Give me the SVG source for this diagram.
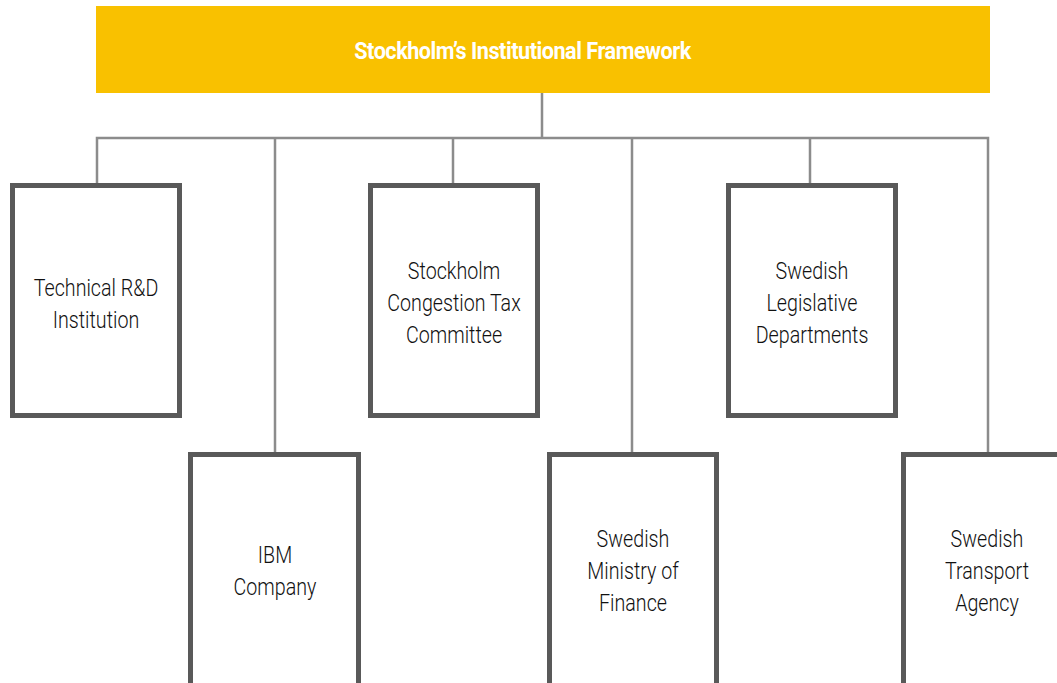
<svg xmlns="http://www.w3.org/2000/svg" width="1057" height="683" viewBox="0 0 1057 683">
<style>
.box{fill:#fff;stroke:#595959;stroke-width:5}
.conn{fill:none;stroke:#8c8c8c;stroke-width:2.5}
.lbl{font-family:Roboto,"Liberation Sans",sans-serif;font-size:24px;font-weight:300;fill:#111;text-anchor:middle}
.hdr{font-family:Roboto,"Liberation Sans",sans-serif;font-size:23px;font-weight:bold;fill:#fff;text-anchor:middle;letter-spacing:-0.5px}
</style>
<rect width="1057" height="683" fill="#fff"/>
<g id="connectors">
<path class="conn" d="M542 93V138M97 185V138H988V452M275 138V452M453 138V185M632 138V452M810 138V185"/>
</g>
<g id="header">
<rect x="96" y="6" width="894" height="87" fill="#F9C100"/>
<g transform="translate(522.5 0) scale(0.94 1)"><text class="hdr" x="0" y="59">Stockholm’s Institutional Framework</text></g>
</g>
<g id="n-tech">
<rect class="box" x="12.5" y="185.5" width="167" height="230"/>
<g transform="translate(96 0) scale(0.82 1)"><text class="lbl" x="0" y="296">Technical R&amp;D</text><text class="lbl" x="0" y="328">Institution</text></g>
</g>
<g id="n-stock">
<rect class="box" x="370.5" y="185.5" width="167" height="230"/>
<g transform="translate(454 0) scale(0.82 1)"><text class="lbl" x="0" y="279">Stockholm</text><text class="lbl" x="0" y="311">Congestion Tax</text><text class="lbl" x="0" y="343">Committee</text></g>
</g>
<g id="n-legis">
<rect class="box" x="728.5" y="185.5" width="167" height="230"/>
<g transform="translate(812 0) scale(0.82 1)"><text class="lbl" x="0" y="279">Swedish</text><text class="lbl" x="0" y="311">Legislative</text><text class="lbl" x="0" y="343">Departments</text></g>
</g>
<g id="n-ibm">
<rect class="box" x="190.5" y="454.5" width="168" height="232"/>
<g transform="translate(275 0) scale(0.82 1)"><text class="lbl" x="0" y="563">IBM</text><text class="lbl" x="0" y="595">Company</text></g>
</g>
<g id="n-fin">
<rect class="box" x="549.5" y="454.5" width="167" height="232"/>
<g transform="translate(633 0) scale(0.82 1)"><text class="lbl" x="0" y="547">Swedish</text><text class="lbl" x="0" y="579">Ministry of</text><text class="lbl" x="0" y="611">Finance</text></g>
</g>
<g id="n-transport">
<rect class="box" x="903.5" y="454.5" width="170" height="232"/>
<g transform="translate(987 0) scale(0.82 1)"><text class="lbl" x="0" y="547">Swedish</text><text class="lbl" x="0" y="579">Transport</text><text class="lbl" x="0" y="611">Agency</text></g>
</g>
</svg>
